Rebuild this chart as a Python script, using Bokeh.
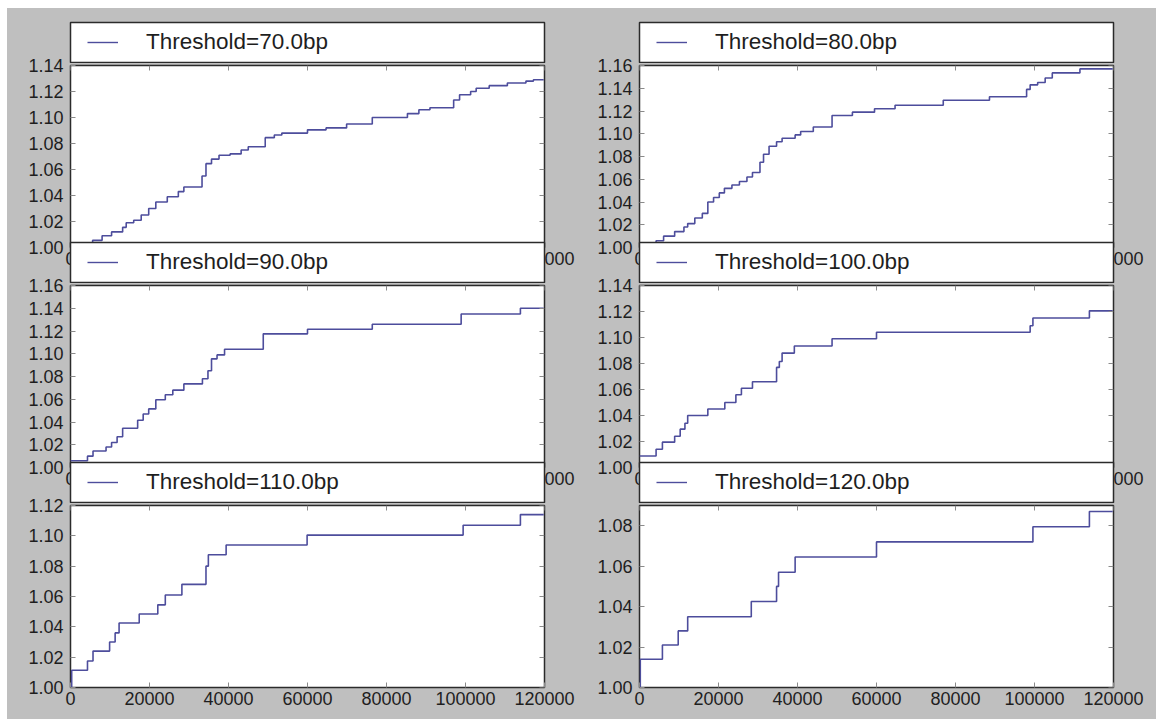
from bokeh.plotting import figure
from bokeh.layouts import column, row
from bokeh.models import (Legend, LegendItem, LinearAxis, FixedTicker,
                          PrintfTickFormatter, CustomJSTickFormatter, Range1d)
from bokeh.embed import file_html
from bokeh.resources import INLINE

# ---------------- data ----------------
thresholds = ["70.0", "80.0", "90.0", "100.0", "110.0", "120.0"]

x_70 = [0, 5600, 8000, 10400, 13200, 14100, 16000, 17900, 19800, 21600, 24500,
        27300, 28700, 33300, 34300, 35700, 37600, 40400, 43200, 45000, 49300,
        51600, 53500, 60000, 64700, 69900, 76400, 85300, 88200, 91000, 97000,
        98500, 101300, 102700, 106000, 110600, 115300, 117200, 119800]
y_70 = [1.000, 1.0055, 1.009, 1.012, 1.0155, 1.019, 1.021, 1.025, 1.030, 1.035, 1.039,
        1.043, 1.0465, 1.055, 1.0645, 1.068, 1.071, 1.072, 1.075, 1.0775, 1.0845,
        1.0865, 1.088, 1.0905, 1.092, 1.095, 1.100, 1.103, 1.106, 1.1075, 1.1135,
        1.1175, 1.120, 1.1225, 1.1245, 1.1265, 1.128, 1.129, 1.129]

x_80 = [0, 4200, 6100, 8900, 11250, 12200, 14000, 15900, 17300, 18750, 20200,
        21500, 23400, 25300, 27200, 28600, 30500, 31400, 32800, 34700, 36100,
        39400, 40800, 44000, 48750, 53900, 59500, 64700, 76900, 88600, 98000,
        98900, 100800, 102700, 104500, 111500, 119800]
y_80 = [1.000, 1.006, 1.010, 1.014, 1.018, 1.021, 1.026, 1.030, 1.040, 1.044, 1.048,
        1.052, 1.055, 1.058, 1.062, 1.066, 1.075, 1.082, 1.089, 1.093, 1.096,
        1.099, 1.102, 1.106, 1.116, 1.119, 1.122, 1.125, 1.1295, 1.1325, 1.139,
        1.143, 1.145, 1.149, 1.1535, 1.157, 1.157]

x_90 = [0, 4300, 5700, 9000, 10400, 11800, 13200, 17000, 18400, 19800, 21600,
        24000, 25900, 28700, 33400, 34800, 35700, 37100, 39000, 48800, 60000,
        76400, 98900, 113900, 119800]
y_90 = [1.006, 1.010, 1.0145, 1.018, 1.022, 1.027, 1.0345, 1.0415, 1.047, 1.0515, 1.0595,
        1.064, 1.068, 1.0735, 1.078, 1.085, 1.0955, 1.099, 1.104, 1.1175, 1.1215,
        1.126, 1.135, 1.140, 1.140]

x_100 = [0, 4200, 5800, 8900, 10300, 11500, 12200, 17300, 21600, 24400, 25800,
         28600, 34700, 35400, 36100, 39200, 48750, 60000, 98900, 99600, 113900, 119800]
y_100 = [1.0088, 1.014, 1.0195, 1.024, 1.0295, 1.034, 1.040, 1.045, 1.050, 1.056, 1.061,
         1.066, 1.077, 1.0815, 1.088, 1.0935, 1.099, 1.104, 1.109, 1.115, 1.1205, 1.1205]

x_110 = [0, 300, 4300, 5700, 9900, 11300, 12300, 17400, 22100, 24000, 28200,
         34300, 34900, 39400, 59900, 99400, 113900, 119800]
y_110 = [1.000, 1.0114, 1.0175, 1.024, 1.030, 1.036, 1.0425, 1.0485, 1.0545, 1.061, 1.068,
         1.080, 1.0875, 1.094, 1.1005, 1.107, 1.114, 1.114]

x_120 = [0, 200, 5800, 9800, 12200, 28300, 34700, 35200, 39400, 60000, 99600,
         113900, 119800]
y_120 = [1.000, 1.014, 1.021, 1.028, 1.035, 1.0425, 1.050, 1.057, 1.0645, 1.072, 1.0795,
         1.087, 1.087]

x_ticks = [0, 20000, 40000, 60000, 80000, 100000, 120000]
y_ticks_70 = [1.00, 1.02, 1.04, 1.06, 1.08, 1.10, 1.12, 1.14]
y_ticks_80 = [1.00, 1.02, 1.04, 1.06, 1.08, 1.10, 1.12, 1.14, 1.16]
y_ticks_90 = [1.00, 1.02, 1.04, 1.06, 1.08, 1.10, 1.12, 1.14, 1.16]
y_ticks_100 = [1.00, 1.02, 1.04, 1.06, 1.08, 1.10, 1.12, 1.14]
y_ticks_110 = [1.00, 1.02, 1.04, 1.06, 1.08, 1.10, 1.12]
y_ticks_120 = [1.00, 1.02, 1.04, 1.06, 1.08]
y_tops = [1.14, 1.16, 1.16, 1.14, 1.12, 1.09]
x_max = 120000

series = [(x_70, y_70, y_ticks_70), (x_80, y_80, y_ticks_80),
          (x_90, y_90, y_ticks_90), (x_100, y_100, y_ticks_100),
          (x_110, y_110, y_ticks_110), (x_120, y_120, y_ticks_120)]

# ---------------- styling / layout ----------------
LINE = "#4d4d9c"
GRAY = "#bfbfbf"
FRAME = "#2b2b2b"
TICK = "#8a8a8a"
TXT = "#1e1e1e"
FONT = "Liberation Sans"

COL_W = [585, 564]
COL_BL = [63, 47]
COL_BR = [48, 43]

PLOT_H, PLOT_BT, PLOT_BB = 234, 20, 32
KEY_H = 42
# vertical overlaps: legend box of a lower panel covers the x labels of the panel above
LEG_MARGIN = [0, -38, -38]
PLOT_MARGIN = -18
NAN = float("nan")


def style_axis(ax, ticks, standoff):
    ax.ticker = FixedTicker(ticks=ticks)
    ax.major_tick_in = 5
    ax.major_tick_out = 0
    ax.minor_tick_line_color = None
    ax.axis_line_color = None
    ax.major_tick_line_color = TICK
    ax.major_tick_line_width = 1
    ax.major_label_text_font = FONT
    ax.major_label_text_font_size = "18px"
    ax.major_label_text_color = TXT
    ax.major_label_standoff = standoff


def tick_only_axis(ticks, loc):
    ax = LinearAxis(fixed_location=loc,
                    formatter=CustomJSTickFormatter(code="return ''"))
    ax.ticker = FixedTicker(ticks=ticks)
    ax.major_tick_in = 5
    ax.major_tick_out = 0
    ax.minor_tick_line_color = None
    ax.axis_line_color = None
    ax.major_tick_line_color = TICK
    ax.major_label_text_color = None
    ax.major_label_standoff = 0
    return ax


def key_box(i, first_row):
    c = i % 2
    h = KEY_H + 13 if first_row else KEY_H
    k = figure(width=COL_W[c], height=h, output_backend="svg",
               toolbar_location=None, tools="",
               x_axis_type=None, y_axis_type=None,
               x_range=Range1d(0, 1), y_range=Range1d(0, 1),
               min_border_left=COL_BL[c], min_border_right=COL_BR[c],
               min_border_top=14 if first_row else 1, min_border_bottom=1)
    k.title.visible = False
    k.grid.visible = False
    k.background_fill_color = "white"
    k.border_fill_color = None
    k.outline_line_color = FRAME
    k.outline_line_width = 1.5
    # a key-only renderer: nothing is drawn in the box, only its legend swatch
    key = k.line([NAN], [NAN], line_color=LINE, line_width=1.4)
    leg = Legend(items=[LegendItem(label=f"Threshold={thresholds[i]}bp", renderers=[key])],
                 location="center_left", margin=17, padding=0, spacing=0,
                 glyph_width=31, glyph_height=20, label_standoff=28,
                 label_text_font=FONT, label_text_font_size="22.5px",
                 label_text_color=TXT,
                 border_line_color=None, background_fill_alpha=0.0)
    k.add_layout(leg)
    return k


def panel(i):
    xs, ys, yt = series[i]
    c = i % 2
    p = figure(width=COL_W[c], height=PLOT_H, output_backend="svg",
               toolbar_location=None, tools="",
               x_range=Range1d(0, x_max), y_range=Range1d(1.0, y_tops[i]),
               min_border_left=COL_BL[c], min_border_right=COL_BR[c],
               min_border_top=PLOT_BT, min_border_bottom=PLOT_BB)
    p.title.visible = False
    p.grid.visible = False
    p.background_fill_color = "white"
    p.border_fill_color = None
    p.outline_line_color = FRAME
    p.outline_line_width = 1.5

    p.step(xs, ys, mode="after", line_color=LINE, line_width=1.6)

    style_axis(p.xaxis[0], x_ticks, 4)
    p.xaxis[0].formatter = PrintfTickFormatter(format="%d")
    style_axis(p.yaxis[0], yt, 7)
    p.yaxis[0].formatter = PrintfTickFormatter(format="%.2f")

    p.add_layout(tick_only_axis(x_ticks, y_tops[i]), "above")
    p.add_layout(tick_only_axis(yt, x_max), "right")
    return p


rows = []
for r in range(3):
    a, b = 2 * r, 2 * r + 1
    rows.append(row(key_box(a, r == 0), key_box(b, r == 0),
                    margin=(LEG_MARGIN[r], 0, 0, 0)))
    rows.append(row(panel(a), panel(b), margin=(PLOT_MARGIN, 0, 0, 0)))

layout = column(*rows, margin=(8, 0, 0, 7), styles={"background-color": GRAY})

open("out.html", "w").write(file_html(layout, INLINE))
